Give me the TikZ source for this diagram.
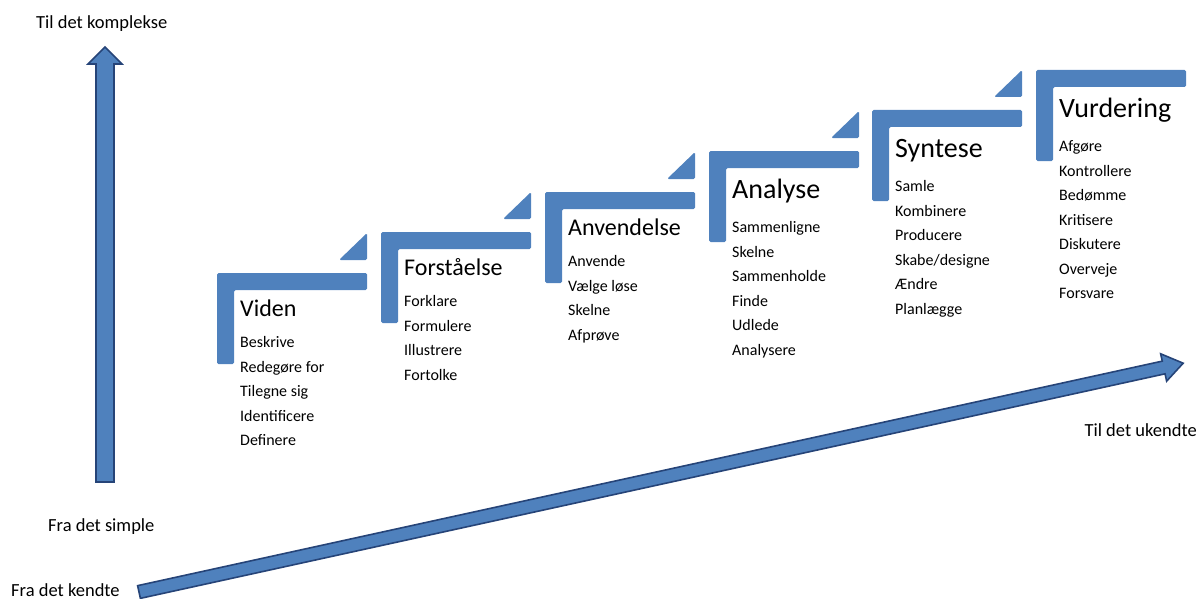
\documentclass[tikz,border=0pt]{standalone}
\usepackage{fontspec}
\setmainfont{Carlito}
\usepackage{tikz}
\definecolor{stepblue}{HTML}{4F81BD}
\definecolor{arrowedge}{HTML}{264478}
\tikzstyle{stepfill}=[fill=stepblue, rounded corners=1.5pt]
\tikzstyle{bigarrow}=[fill=stepblue, draw=arrowedge, line width=1.6pt, line join=miter]
\tikzstyle{steptitle}=[anchor=base west, inner sep=0pt]
\tikzstyle{stepitem}=[anchor=base west, inner sep=0pt, font=\fontsize{16}{19}\selectfont]
\tikzstyle{axislabel}=[inner sep=0pt, font=\fontsize{18.5}{22}\selectfont]
% one step of the staircase: name, x, y (top left), title size, title, verbs
\newcommand{\bloomstep}[6]{%
  \fill[stepfill] (#2,#3) -- ++(150,0) -- ++(0,17) -- ++(-133,0) -- ++(0,74) -- ++(-17,0) -- cycle;
  \node[steptitle, font=\fontsize{#4}{#4}\selectfont] (#1) at (#2+23,#3+43+1.2*#4-28.8) {#5};
  \foreach \w [count=\i] in {#6} {\node[stepitem] (#1-\i) at (#2+23,#3+8+1.75*#4+24.5*\i) {\w};}
}
\newcommand{\steptip}[2]{\fill[stepfill] (#1+150,#2-40) -- (#1+150,#2-13) -- (#1+122,#2-13) -- cycle;}

\begin{document}
\begin{tikzpicture}[x=1pt, y=-1pt]
\useasboundingbox (0,0) rectangle (1201,599);
% vertical arrow
\draw[bigarrow] (96,482) -- (96,64) -- (88,64) -- (105,47) -- (122,64) -- (114,64) -- (114,482) -- cycle;
% diagonal arrow
\begin{scope}[shift={(139,592)}, rotate=12.36]
  \draw[bigarrow] (0,-6.5) -- (1049,-6.5) -- (1049,-14) -- (1069,0) -- (1049,14) -- (1049,6.5) -- (0,6.5) -- cycle;
\end{scope}
\node[axislabel, anchor=base west] (complex) at (36,29) {Til det komplekse};
\node[axislabel, anchor=base west] (simple) at (48,531) {Fra det simple};
\node[axislabel, anchor=base west] (known) at (11,596) {Fra det kendte};
\node[axislabel, anchor=base east] (unknown) at (1197,436) {Til det ukendte};
% steps
\steptip{217}{273}
\steptip{381}{232}
\steptip{545}{192}
\steptip{709}{151}
\steptip{872}{110}
\bloomstep{viden}{217}{273}{24}{Viden}{Beskrive,Redegøre for,Tilegne sig,Identificere,Definere}
\bloomstep{forst}{381}{232}{24}{Forståelse}{Forklare,Formulere,Illustrere,Fortolke}
\bloomstep{anv}{545}{192}{24}{Anvendelse}{Anvende,Vælge løse,Skelne,Afprøve}
\bloomstep{ana}{709}{151}{28}{Analyse}{Sammenligne,Skelne,Sammenholde,Finde,Udlede,Analysere}
\bloomstep{syn}{872}{110}{28}{Syntese}{Samle,Kombinere,Producere,Skabe/designe,Ændre,Planlægge}
\bloomstep{vur}{1036}{70}{28}{Vurdering}{Afgøre,Kontrollere,Bedømme,Kritisere,Diskutere,Overveje,Forsvare}
\end{tikzpicture}
\end{document}
